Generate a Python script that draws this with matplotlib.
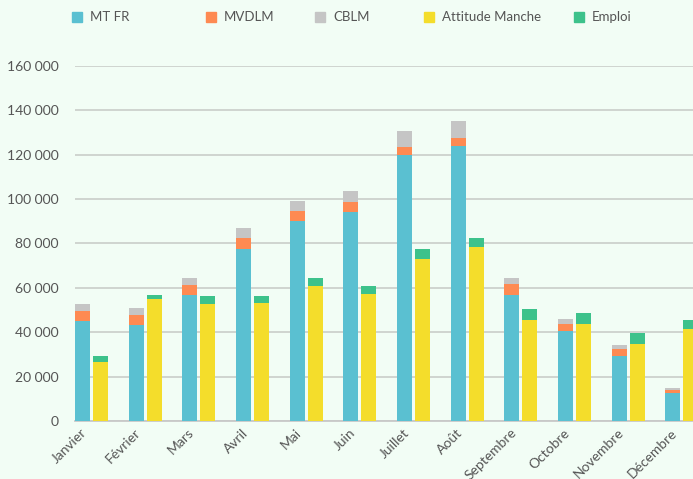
import numpy as np
import matplotlib
matplotlib.use("Agg")
import matplotlib.pyplot as plt
from matplotlib.patches import Rectangle
from matplotlib.ticker import FuncFormatter
from matplotlib.transforms import ScaledTranslation

mois = ['Janvier', 'Février', 'Mars', 'Avril', 'Mai', 'Juin', 'Juillet',
        'Août', 'Septembre', 'Octobre', 'Novembre', 'Décembre']

# pile 1
mt_fr = [45000, 43300, 56800, 77500, 90100, 94300, 119900, 124100, 56800, 40600, 29300, 12600]
mvdlm = [4500, 4500, 4500, 5000, 4500, 4400, 3600, 3600, 4950, 3150, 3150, 1350]
cblm = [3150, 3150, 3150, 4500, 4500, 4950, 7200, 7500, 2700, 2250, 1800, 900]
# pile 2
attitude = [26600, 55000, 52900, 53200, 60800, 57200, 73000, 78400, 45500, 43700, 34700, 41500]
emploi = [2700, 1800, 3500, 3150, 3600, 3600, 4500, 4100, 4950, 4950, 4950, 4050]

c_bleu = '#5ac0d1'
c_orange = '#fe8a52'
c_gris = '#c5c5c5'
c_jaune = '#f4dd2b'
c_vert = '#3dc28b'
fond = '#f2fdf5'

plt.rcParams['font.family'] = ['Lato', 'DejaVu Sans']

fig = plt.figure(figsize=(6.93, 4.79), dpi=100, facecolor=fond)
ax = fig.add_axes([75/693, 58/479, 618/693, 355/479])
ax.set_facecolor(fond)

x = np.arange(len(mois))
w = 0.28
d = 0.168

mt_fr = np.array(mt_fr)
mvdlm = np.array(mvdlm)
cblm = np.array(cblm)
attitude = np.array(attitude)
emploi = np.array(emploi)

ax.bar(x - d, mt_fr, w, color=c_bleu, zorder=3)
ax.bar(x - d, mvdlm, w, bottom=mt_fr, color=c_orange, zorder=3)
ax.bar(x - d, cblm, w, bottom=mt_fr + mvdlm, color=c_gris, zorder=3)
ax.bar(x + d, attitude, w, color=c_jaune, zorder=3)
ax.bar(x + d, emploi, w, bottom=attitude, color=c_vert, zorder=3)

ax.set_xlim(-d - w/2, -d - w/2 + 618/53.67)
ax.set_ylim(0, 160000)
ax.set_yticks(np.arange(0, 160001, 20000))
ax.yaxis.set_major_formatter(FuncFormatter(lambda v, p: f'{int(v):,}'.replace(',', ' ')))
ax.grid(axis='y', color='#cdd1cd', linewidth=1.3, zorder=0)
for s in ['top', 'right', 'left']:
    ax.spines[s].set_visible(False)
ax.spines['bottom'].set_color('#c8c8c8')
ax.spines['bottom'].set_linewidth(1.3)
ax.tick_params(axis='both', length=0, colors='#555555', labelsize=10)
ax.tick_params(axis='y', pad=12)
ax.set_xticks(x)
ax.set_xticklabels(mois, rotation=45, ha='right', rotation_mode='anchor')
ax.tick_params(axis='x', pad=4)
decal = ScaledTranslation(-11/100, 0, fig.dpi_scale_trans)
for lab in ax.get_xticklabels():
    lab.set_transform(lab.get_transform() + decal)

# légende
items = [('MT FR', c_bleu, 72), ('MVDLM', c_orange, 206), ('CBLM', c_gris, 315),
         ('Attitude Manche', c_jaune, 424), ('Emploi', c_vert, 574)]
for nom, col, px in items:
    fig.patches.append(Rectangle((px/693, 1 - 22/479), 10/693, 10/479,
                                 transform=fig.transFigure, color=col))
    fig.text((px + 18)/693, 1 - 17/479, nom, color='#555555', fontsize=9.5, va='center')

fig.savefig('out.png', dpi=100, facecolor=fond)
